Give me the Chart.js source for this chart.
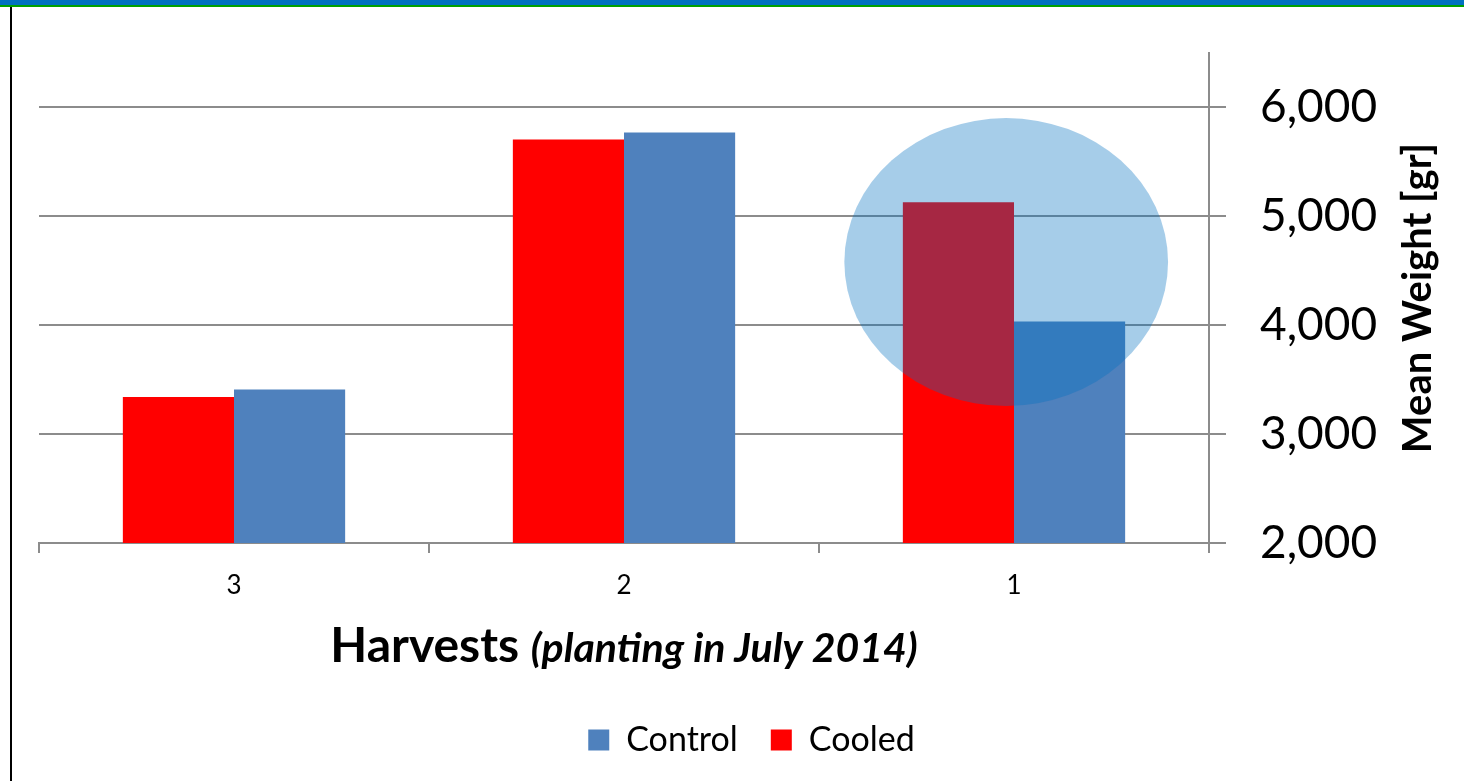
<!DOCTYPE html>
<html>
<head>
<meta charset="utf-8">
<title>Mean weight per harvest</title>
<script src="https://cdn.jsdelivr.net/npm/chart.js@4.4.1/dist/chart.umd.min.js"></script>
<style>
  html, body { margin: 0; padding: 0; background: #fff; overflow: hidden; }
  #wrap { position: relative; width: 1464px; height: 781px; }
  #chart { position: absolute; left: 0; top: 0; }
  #topband { position: absolute; left: 0; top: 0; width: 1464px; height: 5px; background: #0070c0; border-bottom: 2px solid #00a000; }
  #leftline { position: absolute; left: 10px; top: 7px; width: 2px; height: 774px; background: #000; }
</style>
</head>
<body>
<div id="wrap">
  <canvas id="chart" width="1464" height="781"></canvas>
  <div id="topband"></div>
  <div id="leftline"></div>
</div>
<script>
// ── Data ──────────────────────────────────────────────────────────────────
const harvests = ['3', '2', '1'];
const cooled   = [3340, 5705, 5130];
const control  = [3410, 5770, 4035];
const yTicks   = [2000, 3000, 4000, 5000, 6000];

const GRID = '#8c8c8c';
const FONT = 'Lato, Carlito, Calibri, sans-serif';

// ── Plugins ───────────────────────────────────────────────────────────────
// translucent ellipse highlighting harvest 1
const highlight = {
  id: 'highlight',
  afterDatasetsDraw(chart, args, opts) {
    const { x, y } = chart.scales;
    const catW = x.getPixelForValue(1) - x.getPixelForValue(0);
    const cx = x.getPixelForValue(opts.cat);
    const cy = y.getPixelForValue(opts.value);
    const rx = opts.rxCat * catW;
    const ry = Math.abs(y.getPixelForValue(opts.value + opts.ryValue) - cy);
    const ctx = chart.ctx;
    ctx.save();
    ctx.fillStyle = opts.color;
    ctx.beginPath();
    ctx.ellipse(cx, cy, rx, ry, 0, 0, Math.PI * 2);
    ctx.fill();
    ctx.restore();
  }
};

// axis titles: mixed bold / bold-italic x title, bottom-to-top y title
const axisTitles = {
  id: 'axisTitles',
  afterDraw(chart) {
    const ctx = chart.ctx;
    const area = chart.chartArea;
    ctx.save();
    ctx.fillStyle = '#000';
    ctx.textBaseline = 'alphabetic';

    const partA = 'Harvests ';
    const partB = '(planting in July 2014)';
    const fontA = `bold 48px ${FONT}`;
    const fontB = `italic bold 41px ${FONT}`;
    ctx.font = fontA;
    const wA = ctx.measureText(partA).width;
    ctx.font = fontB;
    const wB = ctx.measureText(partB).width;
    let tx = (area.left + area.right) / 2 - (wA + wB) / 2;
    ctx.textAlign = 'left';
    ctx.font = fontA;
    ctx.fillText(partA, tx, 662);
    ctx.font = fontB;
    ctx.fillText(partB, tx + wA, 662);

    ctx.translate(1431, (area.top + area.bottom) / 2);
    ctx.rotate(-Math.PI / 2);
    ctx.textAlign = 'center';
    ctx.font = `bold 40px ${FONT}`;
    ctx.fillText('Mean Weight [gr]', 0, 0);
    ctx.restore();
  }
};

// ── Chart ─────────────────────────────────────────────────────────────────
const ctx = document.getElementById('chart').getContext('2d');
const chart = new Chart(ctx, {
  type: 'bar',
  data: {
    labels: harvests,
    datasets: [
      { label: 'Cooled',  data: cooled,  backgroundColor: '#ff0000', borderWidth: 0 },
      { label: 'Control', data: control, backgroundColor: '#4f81bd', borderWidth: 0 }
    ]
  },
  options: {
    responsive: false,
    animation: false,
    devicePixelRatio: 1,
    categoryPercentage: 0.57,
    barPercentage: 1.0,
    layout: { padding: { left: 39, top: 53, right: 0, bottom: 14 } },
    plugins: {
      tooltip: { enabled: false },
      legend: {
        position: 'bottom',
        reverse: true,
        labels: {
          color: '#000',
          font: { family: FONT, size: 34 },
          boxWidth: 21,
          boxHeight: 21,
          padding: 33
        }
      },
      highlight: { cat: 1.98, value: 4580, rxCat: 0.415, ryValue: 1322, color: 'rgba(0,112,192,0.35)' }
    },
    scales: {
      x: {
        grid: { offset: true, drawOnChartArea: false, color: GRID, lineWidth: 2, tickLength: 10 },
        border: { color: GRID, width: 2 },
        ticks: { color: '#000', padding: 17, font: { family: FONT, size: 26 } },
        afterFit: s => { s.height = 147; }
      },
      y: {
        position: 'right',
        min: 2000,
        max: 6500,
        afterBuildTicks: s => { s.ticks = yTicks.map(v => ({ value: v })); },
        // fixed width; no extra top/bottom padding from the big tick labels
        afterFit: s => { s.width = 255; s.paddingTop = 0; s.paddingBottom = 0; },
        grid: { color: GRID, lineWidth: 2, tickLength: 17 },
        border: { color: GRID, width: 2 },
        ticks: {
          color: '#000',
          padding: 34,
          font: { family: FONT, size: 46 },
          callback: v => v.toLocaleString('en-US')
        }
      }
    }
  },
  plugins: [highlight, axisTitles]
});
</script>
</body>
</html>
